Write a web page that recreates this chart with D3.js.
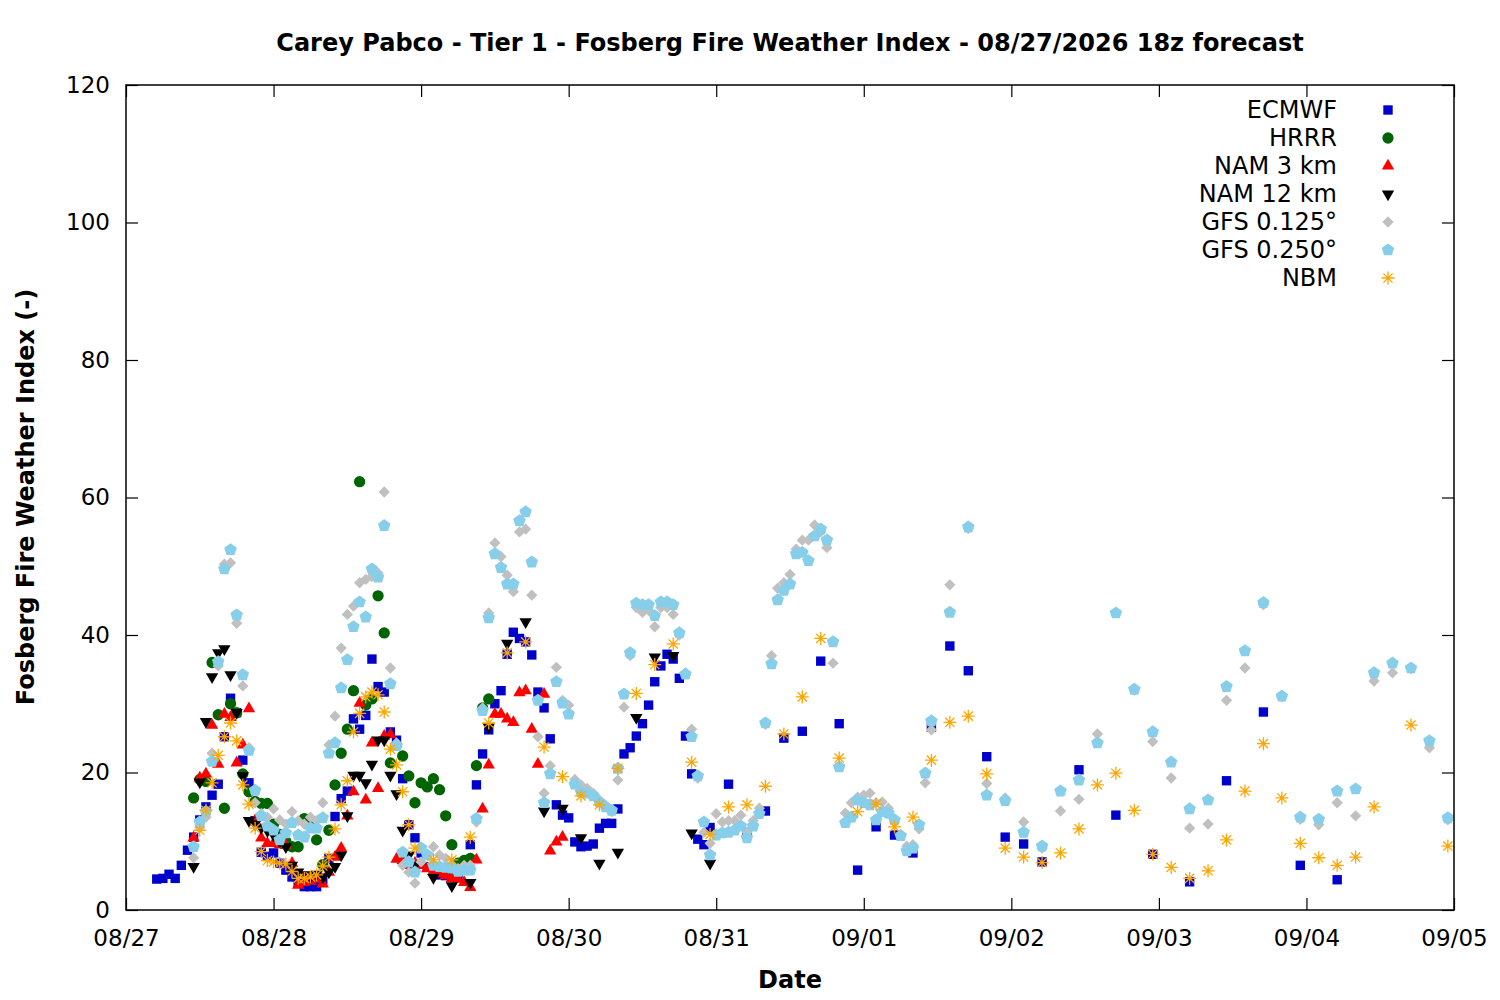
<!DOCTYPE html>
<html>
<head>
<meta charset="utf-8">
<script src="https://cdn.jsdelivr.net/npm/d3@7"></script>
<style>
  body { margin: 0; background: #fff; }
  svg text { font-family: "DejaVu Sans", sans-serif; }
</style>
</head>
<body>
<div id="chart"></div>
<script>
// valid times are hours after 08/27 00:00 local
const DAY_LABELS = ["08/27","08/28","08/29","08/30","08/31","09/01","09/02","09/03","09/04","09/05"]
const Y_TICKS = [0, 20, 40, 60, 80, 100, 120]

const ecmwfHours = [...d3.range(5, 96), ...d3.range(98, 150, 3), ...d3.range(155, 198, 6)]
const ecmwfVals = [
  4.5, 4.6, 5.2, 4.6, 6.5, 8.7, 10.6, 13.1, 15, 16.7,
  18.3, 25.2, 30.8, 28.7, 21.8, 18.5, 13, 8.4, 7.8, 8.3,
  6.8, 5.8, 4.8, 4.0, 3.4, 3.4, 3.4, 4.4, 7.5, 13.6,
  16.2, 17.3, 27.8, 26.3, 28.3, 36.5, 32.5, 31.7, 25.9, 24.7,
  19.1, 12.4, 10.5, 8.3, 6.3, 5.8, 5.1, 5.0, 4.8, 5.2,
  5.8, 9.5, 18.2, 22.7, 26.2, 30, 31.9, 37.2, 40.4, 39.5,
  39, 37.1, 31.7, 29.4, 24.9, 15.3, 13.8, 13.4, 9.9, 9.2,
  9.3, 9.6, 11.9, 12.6, 12.6, 14.7, 22.7, 23.6, 25.3, 27.1,
  29.8, 33.2, 35.5, 37.2, 36.5, 33.7, 25.3, 19.8, 10.3, 9.5,
  12,
  18.3, 11.3, 14.4, 25, 26, 36.2, 27.1, 5.8, 12.1, 10.9, 8.3, 26.6, 38.4, 34.8, 22.3, 10.6, 9.6, 7,
  20.4, 13.8, 8.1, 4.1, 18.8, 28.8, 6.5, 4.4
]

const hrrrHours = d3.range(11, 60)
const hrrrVals = [
  16.3, 19, 18.7, 36, 28.4, 14.8, 30, 28.7, 19.8, 17.2,
  15.8, 15.5, 15.5, 12.5, 11, 10, 9.2, 9.2, 13.3, 12.5,
  10.2, 6.6, 11.6, 18.2, 22.8, 26.3, 31.9, 62.3, 29.8, 30.7,
  45.7, 40.3, 21.4, 24, 22.4, 19.5, 15.6, 18.5, 17.9, 19.1,
  17.5, 13.7, 9.5, 6.8, 7.2, 7.5, 21, 29.4, 30.7
]

const nam3Hours = d3.range(11, 72)
const nam3Vals = [
  10.5, 19.2, 19.8, 26.9, 21.2, 28.5, 28, 21.4, 24, 29.3,
  13, 10.5, 9.7, 9.7, 9.5, 9.4, 6.8, 3.6, 4, 4.2,
  4.5, 3.8, 5.5, 7.7, 9, 13.7, 17.2, 30.1, 16, 24.3,
  17.7, 25.3, 25.5, 7.4, 7.2, 6.5, 6.8, 6.5, 6, 5.6,
  5.3, 5, 4.6, 4.5, 4, 3.3, 7.3, 14.7, 21.1, 28.5,
  28.5, 27.8, 27.3, 31.6, 31.9, 26.3, 21.2, 31.4, 8.6, 9.9,
  10.6
]

const nam12Hours = [...d3.range(11, 48), ...d3.range(50, 96, 3)]
const nam12Vals = [
  6.3, 18.6, 27.4, 33.9, 37.4, 38, 34.2, 28.7, 19.5, 13,
  12.5, 12, 11.5, 10.9, 10, 9.2, 6.5, 5.5, 5.1, 4.8,
  5.2, 4.8, 5.5, 6.3, 8, 13.7, 19.6, 19.6, 18.5, 21.2,
  24.7, 24.7, 19.6, 16.9, 11.6, 8, 6.5,
  4.7, 3.5, 4.0, 26.6, 38.8, 41.9, 14.4, 14.8, 10.5, 6.8, 8.4, 28, 36.8, 37, 11.2, 6.8
]

const gfsHours = [...d3.range(11, 132), ...d3.range(134, 216, 3)]
const gfs125Vals = [
  7.6, 12, 13.5, 22.8, 35.5, 50.3, 50.5, 41.7, 32.6, 23.6,
  15.6, 14, 13.5, 14.7, 13.1, 12.5, 14.3, 13, 12.5, 13.5,
  13, 15.6, 24, 28.2, 38.1, 43, 44.2, 47.6, 48.1, 48.5,
  49, 60.8, 35.2, 24.3, 6.5, 5.5, 3.9, 7, 8, 9.2,
  8, 7.5, 6.5, 6, 6.5, 6.5, 12.8, 29.4, 43.2, 53.4,
  51.4, 48.7, 46.3, 55, 55.4, 45.8, 25.2, 17, 21, 35.3,
  30.5, 29.8, 19, 18.2, 17.7, 17, 16, 15.2, 14.3, 18.9,
  29.5, 37, 44, 43.3, 43.6, 41.2, 44, 44, 43, 40,
  34.5, 26.3, 19.2, 11.3, 9.7, 14, 12.8, 13, 13, 13.8,
  11.3, 13, 14.8, 27, 37, 46.8, 47.6, 48.8, 52.5, 53.8,
  53.8, 56, 55, 52.7, 35.9, 21, 14.1, 15.6, 16.4, 16.7,
  17, 15.6, 15.7, 14.8, 13.1, 11, 9.3, 9.5, 11.8, 18.5,
  26.2,
  47.3, 55.5, 18.4, 16.3, 12.8, 9, 14.4, 16.1, 25.6, 43.3,
  32, 24.5, 19.2, 11.9, 12.5, 30.5, 35.2, 44.4, 31, 13.2,
  12.4, 15.6, 13.7, 33.3, 34.5, 35.1, 23.6, 13.1
]
const gfs250Vals = [
  9.2, 12.8, 14.3, 21.6, 36.1, 49.6, 52.4, 42.9, 34.2, 23.2,
  17.4, 13.7, 12.2, 11.6, 10.2, 11.2, 12.7, 10.9, 10.6, 11.9,
  11.9, 13.4, 22.8, 24.3, 32.3, 36.4, 41.2, 44.8, 42.6, 49.6,
  48.4, 55.9, 32.9, 23.9, 8.4, 7, 5.5, 9, 8, 6.5,
  6.3, 6.2, 6.1, 5.6, 5.8, 5.8, 13.3, 29, 42.5, 51.8,
  49.8, 47.4, 47.4, 56.6, 57.9, 50.6, 30.5, 15.6, 19.8, 33.2,
  30.1, 28.5, 18.3, 17.2, 17, 16.6, 15.7, 15, 14.5, 20.6,
  31.4, 37.4, 44.6, 44.4, 44.4, 42.8, 44.8, 44.8, 44.4, 40.3,
  34.3, 25.2, 19.5, 12.8, 8, 10.9, 11.2, 11.3, 11.6, 12.2,
  10.5, 12.2, 14, 27.2, 35.8, 45.1, 46.5, 47.4, 51.8, 52,
  50.8, 54.4, 55.4, 53.8, 39, 20.8, 12.7, 13.5, 16, 15.6,
  15.3, 13.1, 14.3, 14.1, 13.1, 10.8, 8.6, 9, 12.4, 19.9,
  27.5,
  43.3, 55.7, 16.7, 15.9, 11.3, 9.3, 17.3, 18.9, 24.3, 43.2,
  32.1, 25.9, 21.5, 14.7, 16, 32.5, 37.7, 44.7, 31.1, 13.5,
  13.2, 17.3, 17.6, 34.5, 35.9, 35.2, 24.6, 13.4
]

const nbmHours = [...d3.range(12, 48), ...d3.range(50, 204, 3), 209, 215]
const nbmVals = [
  11.6, 14.5, 18.5, 22.5, 25.2, 27.2, 24.6, 18.2, 15.4, 11.9,
  8.5, 7.2, 7, 6.8, 6.7, 5.6, 4.6, 4.6, 4.8, 5.1,
  6.4, 7.7, 11.8, 15.3, 18.8, 25.9, 28.6, 31, 31.7, 31.3,
  28.8, 23.4, 21.1, 17.2, 12.4, 9,
  7.3, 7.3, 10.6, 27.2, 37.4, 39, 23.7, 19.4, 16.6, 15.3,
  20.6, 31.5, 35.7, 38.7, 21.5, 11, 15, 15.3, 18, 25.6,
  31, 39.5, 22.1, 14.3, 15.4, 12.1, 13.5, 21.8, 27.3, 28.2,
  19.8, 9, 7.7, 6.9, 8.3, 11.8, 18.2, 19.9, 14.5, 8.1,
  6.2, 4.6, 5.7, 10.2, 17.3, 24.2, 16.3, 9.7, 7.6, 6.5,
  7.7, 15,
  26.9, 9.3
]

// marker shapes
function pentagonPath(r) {
  return d3.range(5).map(k => {
    let a = -Math.PI / 2 + k * 2 * Math.PI / 5
    return (k ? "L" : "M") + (r * Math.cos(a)).toFixed(2) + "," + (r * Math.sin(a)).toFixed(2)
  }).join("") + "Z"
}
function asteriskPath(r) {
  let p = ""
  for (let k = 0; k < 4; k++) {
    let a = k * Math.PI / 4
    let dx = r * Math.cos(a), dy = r * Math.sin(a)
    p += `M${-dx},${-dy}L${dx},${dy}`
  }
  return p
}

const SERIES = [
  {name: "ECMWF", hours: ecmwfHours, vals: ecmwfVals, color: "#0000cc",
    d: d3.symbol(d3.symbolSquare, 88)(), rot: 0, fill: true},
  {name: "HRRR", hours: hrrrHours, vals: hrrrVals, color: "#006400",
    d: d3.symbol(d3.symbolCircle, 100)(), rot: 0, fill: true},
  {name: "NAM 3 km", hours: nam3Hours, vals: nam3Vals, color: "#ff0000",
    d: d3.symbol(d3.symbolTriangle, 66)(), rot: 0, fill: true},
  {name: "NAM 12 km", hours: nam12Hours, vals: nam12Vals, color: "#000000",
    d: d3.symbol(d3.symbolTriangle, 66)(), rot: 180, fill: true},
  {name: "GFS 0.125°", hours: gfsHours, vals: gfs125Vals, color: "#c0c0c0",
    d: d3.symbol(d3.symbolSquare, 64)(), rot: 45, fill: true},
  {name: "GFS 0.250°", hours: gfsHours, vals: gfs250Vals, color: "#87ceeb",
    d: pentagonPath(6.6), rot: 0, fill: true},
  {name: "NBM", hours: nbmHours, vals: nbmVals, color: "#ffa500",
    d: asteriskPath(6.5), rot: 0, fill: false}
]

const W = 1500, H = 1000
const margin = {top: 85, right: 46, bottom: 90, left: 126}
const width = W - margin.left - margin.right
const height = H - margin.top - margin.bottom

const svg = d3.select("#chart").append("svg")
  .attr("width", W).attr("height", H)

svg.append("text")
  .attr("x", 790).attr("y", 51)
  .attr("text-anchor", "middle")
  .style("font-size", "24px").style("font-weight", "bold")
  .text("Carey Pabco - Tier 1 - Fosberg Fire Weather Index - 08/27/2026 18z forecast")

const g = svg.append("g").attr("transform", `translate(${margin.left},${margin.top})`)

const x = d3.scaleLinear().domain([0, 216]).range([0, width])
const y = d3.scaleLinear().domain([0, 120]).range([height, 0])
const dayHours = DAY_LABELS.map((_, i) => i * 24)

// axes with inward ticks, mirrored like gnuplot
const tickLen = 12
g.append("g").attr("transform", `translate(0,${height})`)
  .call(d3.axisBottom(x).tickValues(dayHours).tickSizeInner(-tickLen).tickSizeOuter(0)
    .tickFormat((d, i) => DAY_LABELS[i]).tickPadding(tickLen + 8))
g.append("g")
  .call(d3.axisTop(x).tickValues(dayHours).tickSizeInner(-tickLen).tickSizeOuter(0).tickFormat(""))
g.append("g")
  .call(d3.axisLeft(y).tickValues(Y_TICKS).tickSizeInner(-tickLen).tickSizeOuter(0).tickPadding(16))
g.append("g").attr("transform", `translate(${width},0)`)
  .call(d3.axisRight(y).tickValues(Y_TICKS).tickSizeInner(-tickLen).tickSizeOuter(0).tickFormat(""))

g.selectAll(".domain").remove()
g.selectAll(".tick line").attr("stroke", "#000").attr("stroke-width", 1.2)
g.selectAll(".tick text").style("font-size", "23px").attr("fill", "#000")

// points
SERIES.forEach(s => {
  g.append("g").selectAll("path")
    .data(s.hours.map((h, i) => [h, s.vals[i]]))
    .enter().append("path")
      .attr("d", s.d)
      .attr("transform", ([h, v]) => `translate(${x(h)},${y(v)}) rotate(${s.rot})`)
      .attr("fill", s.fill ? s.color : "none")
      .attr("stroke", s.fill ? "none" : s.color)
      .attr("stroke-width", 1.3)
})

g.append("rect")
  .attr("width", width).attr("height", height)
  .attr("fill", "none").attr("stroke", "#000").attr("stroke-width", 1.5)

// legend
const legend = svg.append("g")
SERIES.forEach((s, i) => {
  let yy = 110 + i * 28
  legend.append("text")
    .attr("x", 1337).attr("y", yy).attr("dy", "0.35em")
    .attr("text-anchor", "end").style("font-size", "24px")
    .text(s.name)
  legend.append("path")
    .attr("d", s.d)
    .attr("transform", `translate(1388,${yy}) rotate(${s.rot})`)
    .attr("fill", s.fill ? s.color : "none")
    .attr("stroke", s.fill ? "none" : s.color)
    .attr("stroke-width", 1.3)
})

svg.append("text")
  .attr("x", 790).attr("y", 988)
  .attr("text-anchor", "middle")
  .style("font-size", "24px").style("font-weight", "bold")
  .text("Date")

svg.append("text")
  .attr("transform", "translate(34,497) rotate(-90)")
  .attr("text-anchor", "middle")
  .style("font-size", "24px").style("font-weight", "bold")
  .text("Fosberg Fire Weather Index (-)")
</script>
</body>
</html>
